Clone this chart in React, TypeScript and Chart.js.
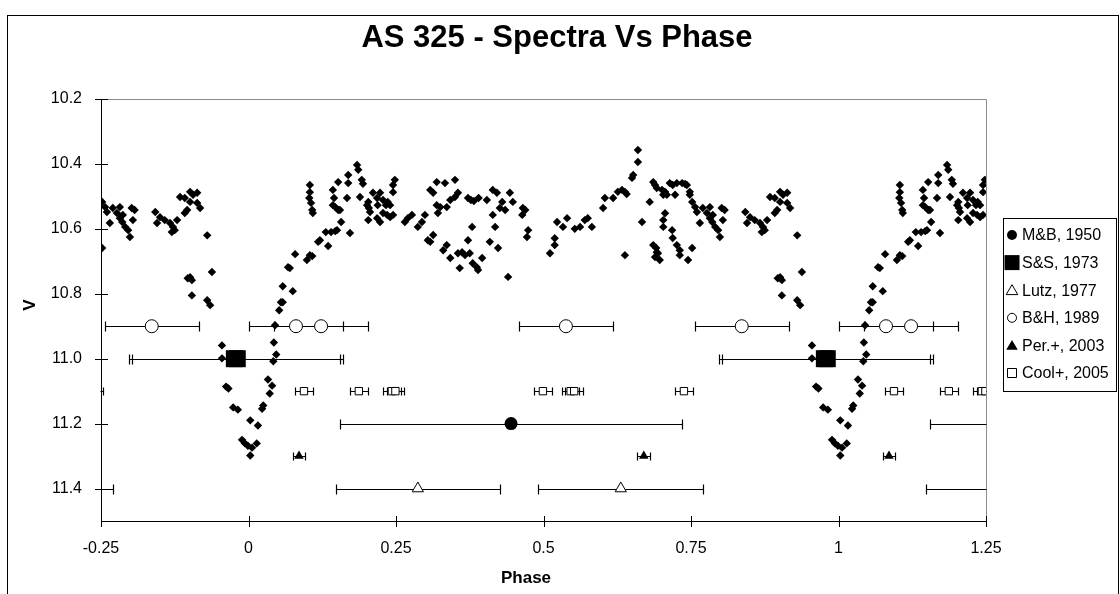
import React, { useEffect, useRef } from 'react';
import { Chart, registerables } from 'chart.js';

Chart.register(...registerables);

// ---------- DATA ----------
// Light curve (base phase 0..1, V magnitude); the chart repeats it at phase -1 / +1
const lcPhase = [
  0.003, 0.006, 0.014, 0.003, 0.016, 0.023, 0.025, 0.036, 0.033, 0.040,
  0.042, 0.047, 0.043, 0.045, 0.052, 0.055, 0.058, 0.058, 0.075, 0.067,
  0.070, 0.079, 0.099, 0.104, 0.108, 0.118, 0.121, 0.135, 0.131, 0.140,
  0.147, 0.150, 0.157, 0.172, 0.155, 0.104, 0.103, 0.106, 0.108, 0.109,
  0.104, 0.143, 0.145, 0.143, 0.147, 0.152, 0.152, 0.167, 0.169, 0.169,
  0.184, 0.186, 0.192, 0.194, 0.189, 0.203, 0.204, 0.206, 0.201, 0.211,
  0.218, 0.223, 0.228, 0.233, 0.219, 0.218, 0.203, 0.228, 0.223, 0.236,
  0.240, 0.235, 0.240, 0.245, 0.245, 0.248, 0.245, 0.265, 0.270, 0.277,
  0.287, 0.294, 0.299, 0.308, 0.313, 0.304, 0.308, 0.313, 0.319, 0.333,
  0.350, 0.319, 0.321, 0.325, 0.336, 0.342, 0.350, 0.355, 0.330, 0.336,
  0.342, 0.355, 0.362, 0.367, 0.375, 0.358, 0.372, 0.380, 0.387, 0.389,
  0.396, 0.379, 0.372, 0.377, 0.382, 0.390, 0.404, 0.409, 0.423, 0.414,
  0.421, 0.430, 0.426, 0.435, 0.414, 0.418, 0.443, 0.448, 0.440, 0.465,
  0.464, 0.469, 0.474, 0.472, 0.511, 0.519, 0.519, 0.523, 0.533, 0.540,
  0.553, 0.562, 0.570, 0.575, 0.582, 0.601, 0.604, 0.618, 0.626, 0.633,
  0.638, 0.641, 0.650, 0.652, 0.660, 0.660, 0.638, 0.667, 0.680, 0.686,
  0.692, 0.689, 0.701, 0.706, 0.709, 0.703, 0.714, 0.719, 0.726, 0.735,
  0.740, 0.743, 0.723, 0.748, 0.748, 0.752, 0.757, 0.760, 0.770, 0.782,
  0.765, 0.777, 0.782, 0.786, 0.791, 0.796, 0.799, 0.787, 0.802, 0.807,
  0.804, 0.703, 0.703, 0.706, 0.718, 0.719, 0.726, 0.731, 0.686, 0.691,
  0.694, 0.689, 0.697, 0.692, 0.731, 0.752, 0.745, 0.842, 0.850, 0.845,
  0.858, 0.867, 0.872, 0.879, 0.875, 0.870, 0.884, 0.892, 0.901, 0.906,
  0.913, 0.901, 0.896, 0.892, 0.913, 0.918, 0.930, 0.938, 0.897, 0.901,
  0.904, 0.904, 0.930, 0.935, 0.955, 0.955, 0.962, 0.966, 0.974, 0.982,
  0.989, 0.994, 0.999,
];
const lcMag = [
  11.298, 11.274, 11.261, 11.190, 11.206, 11.154, 11.144, 11.107, 11.064, 11.083,
  11.008, 10.987, 10.950, 10.897, 10.851, 10.826, 10.826, 10.777, 10.792, 10.718,
  10.721, 10.678, 10.696, 10.681, 10.684, 10.640, 10.635, 10.653, 10.610, 10.610,
  10.607, 10.604, 10.579, 10.613, 10.542, 10.487, 10.505, 10.520, 10.542, 10.551,
  10.465, 10.480, 10.505, 10.527, 10.533, 10.542, 10.456, 10.505, 10.434, 10.459,
  10.403, 10.418, 10.449, 10.461, 10.502, 10.517, 10.536, 10.548, 10.527, 10.489,
  10.505, 10.489, 10.511, 10.527, 10.527, 10.567, 10.573, 10.551, 10.579, 10.517,
  10.527, 10.557, 10.564, 10.557, 10.465, 10.449, 10.487, 10.579, 10.567, 10.557,
  10.594, 10.579, 10.557, 10.640, 10.619, 10.635, 10.480, 10.489, 10.456, 10.459,
  10.449, 10.527, 10.551, 10.533, 10.533, 10.511, 10.502, 10.489, 10.666, 10.650,
  10.690, 10.675, 10.672, 10.681, 10.675, 10.721, 10.635, 10.706, 10.718, 10.727,
  10.690, 10.594, 10.505, 10.511, 10.514, 10.505, 10.511, 10.640, 10.659, 10.480,
  10.489, 10.517, 10.536, 10.542, 10.557, 10.594, 10.489, 10.517, 10.748, 10.536,
  10.557, 10.542, 10.604, 10.625, 10.675, 10.650, 10.629, 10.579, 10.594, 10.567,
  10.600, 10.594, 10.573, 10.567, 10.594, 10.536, 10.505, 10.505, 10.486, 10.480,
  10.486, 10.493, 10.443, 10.434, 10.394, 10.357, 10.681, 10.579, 10.517, 10.456,
  10.474, 10.465, 10.480, 10.486, 10.495, 10.495, 10.459, 10.465, 10.459, 10.459,
  10.462, 10.465, 10.495, 10.486, 10.495, 10.517, 10.533, 10.548, 10.536, 10.533,
  10.582, 10.551, 10.567, 10.579, 10.594, 10.604, 10.625, 10.557, 10.536, 10.542,
  10.573, 10.573, 10.594, 10.552, 10.604, 10.628, 10.650, 10.666, 10.650, 10.659,
  10.675, 10.687, 10.696, 10.672, 10.681, 10.659, 10.696, 10.548, 10.564, 10.582,
  10.573, 10.582, 10.594, 10.573, 10.604, 10.610, 10.502, 10.505, 10.486, 10.495,
  10.489, 10.517, 10.542, 10.551, 10.520, 10.536, 10.620, 10.733, 10.752, 10.749,
  10.758, 10.805, 10.820, 10.835, 10.959, 10.999, 11.086, 11.092, 11.150, 11.157,
  11.250, 11.261, 11.268,
];

// Spectra (phase, V level, phase error)
const mbPhase = [0.445];
const mbMag = [11.2];
const mbErr = [0.29];

const ssPhase = [0.976, 0.981];
const ssMag = [11.0, 11.0];
const ssErr = [0.179, 0.179];

const lutzPhase = [0.287, 0.631];
const lutzMag = [11.4, 11.4];
const lutzErr = [0.139, 0.14];

const bhPhase = [0.0805, 0.123, 0.538, 0.836];
const bhMag = [10.9, 10.9, 10.9, 10.9];
const bhErr = [0.08, 0.08, 0.08, 0.08];

const perPhase = [0.0856, 0.67];
const perMag = [11.3, 11.3];
const perErr = [0.011, 0.011];

const coolPhase = [0.094, 0.187, 0.243, 0.249, 0.499, 0.546, 0.552, 0.738];
const coolMag = [11.1, 11.1, 11.1, 11.1, 11.1, 11.1, 11.1, 11.1];
const coolErr = [0.015, 0.015, 0.015, 0.015, 0.015, 0.015, 0.015, 0.015];

const seriesLabels = ['M&B, 1950', 'S&S, 1973', 'Lutz, 1977', 'B&H, 1989', 'Per.+, 2003', 'Cool+, 2005'];
const xTickValues = [-0.25, 0, 0.25, 0.5, 0.75, 1, 1.25];
const yTickValues = [10.2, 10.4, 10.6, 10.8, 11.0, 11.2, 11.4];
const xMin = -0.25;
const xMax = 1.25;
const yMin = 10.2;
const yMax = 11.5;

const titleText = 'AS 325 - Spectra Vs Phase';
const xTitle = 'Phase';
const yTitle = 'V';

// ---------- helpers ----------
type Pt = { x: number; y: number; e: number };

function repeatPhases(ph: number[], mags: number[], errs?: number[]): Pt[] {
  const out: Pt[] = [];
  ph.forEach((p, i) => {
    [-1, 0, 1].forEach((s) => {
      const x = p + s;
      const e = errs ? errs[i] : 0;
      if (x + e >= xMin && x - e <= xMax) out.push({ x, y: mags[i], e });
    });
  });
  return out;
}

const inRange = (pts: Pt[]) => pts.filter((p) => p.x >= xMin && p.x <= xMax);

const FONT = '"Liberation Sans", Arial, Helvetica, sans-serif';

function drawShape(
  ctx: CanvasRenderingContext2D,
  kind: string,
  x: number,
  y: number,
  s: number,
  filled: boolean
) {
  ctx.beginPath();
  if (kind === 'circle') {
    ctx.arc(x, y, s, 0, Math.PI * 2);
  } else if (kind === 'rect') {
    ctx.rect(x - s, y - s, 2 * s, 2 * s);
  } else if (kind === 'triangle') {
    ctx.moveTo(x, y - s);
    ctx.lineTo(x + s * 1.05, y + s * 0.8);
    ctx.lineTo(x - s * 1.05, y + s * 0.8);
    ctx.closePath();
  }
  if (filled) {
    ctx.fillStyle = '#000';
    ctx.fill();
  } else {
    ctx.fillStyle = '#fff';
    ctx.fill();
    ctx.strokeStyle = '#000';
    ctx.lineWidth = 1;
    ctx.stroke();
  }
}

export default function App() {
  const ref = useRef<HTMLCanvasElement>(null);

  useEffect(() => {
    const lc = inRange(repeatPhases(lcPhase, lcMag));
    const mb = repeatPhases(mbPhase, mbMag, mbErr);
    const ss = repeatPhases(ssPhase, ssMag, ssErr);
    const lutz = repeatPhases(lutzPhase, lutzMag, lutzErr);
    const bh = repeatPhases(bhPhase, bhMag, bhErr);
    const per = repeatPhases(perPhase, perMag, perErr);
    const cool = repeatPhases(coolPhase, coolMag, coolErr);

    const bars: { p: Pt; cap: number }[] = [
      ...mb.map((p) => ({ p, cap: 5 })),
      ...ss.map((p) => ({ p, cap: 5 })),
      ...lutz.map((p) => ({ p, cap: 5 })),
      ...bh.map((p) => ({ p, cap: 5 })),
      ...per.map((p) => ({ p, cap: 4 })),
      ...cool.map((p) => ({ p, cap: 4 })),
    ];

    const frameAndBars = {
      id: 'frameAndBars',
      beforeDatasetsDraw(chart: any) {
        const { ctx, chartArea: a, scales } = chart;
        const xs = scales.x;
        const ys = scales.y;
        ctx.save();
        // plot area border (grey top/right)
        ctx.strokeStyle = '#8c8c8c';
        ctx.lineWidth = 1;
        ctx.beginPath();
        ctx.moveTo(Math.round(a.left) + 0.5, Math.round(a.top) + 0.5);
        ctx.lineTo(Math.round(a.right) + 0.5, Math.round(a.top) + 0.5);
        ctx.lineTo(Math.round(a.right) + 0.5, Math.round(a.bottom) + 0.5);
        ctx.stroke();
        // axes
        ctx.strokeStyle = '#000';
        ctx.beginPath();
        ctx.moveTo(Math.round(a.left) + 0.5, Math.round(a.top));
        ctx.lineTo(Math.round(a.left) + 0.5, Math.round(a.bottom) + 0.5);
        ctx.lineTo(Math.round(a.right) + 1, Math.round(a.bottom) + 0.5);
        ctx.stroke();
        ctx.beginPath();
        yTickValues.forEach((v) => {
          const py = Math.round(ys.getPixelForValue(v)) + 0.5;
          ctx.moveTo(Math.round(a.left) - 6, py);
          ctx.lineTo(Math.round(a.left) + 7, py);
        });
        xTickValues.forEach((v) => {
          const px = Math.round(xs.getPixelForValue(v)) + 0.5;
          ctx.moveTo(px, Math.round(a.bottom) - 5);
          ctx.lineTo(px, Math.round(a.bottom) + 6);
        });
        ctx.stroke();

        // error bars, clipped to the plot area
        ctx.beginPath();
        ctx.rect(a.left - 0.5, 0, a.right - a.left + 1, chart.height);
        ctx.clip();
        ctx.lineWidth = 1.2;
        ctx.beginPath();
        bars.forEach(({ p, cap }) => {
          const py = Math.round(ys.getPixelForValue(p.y)) + 0.5;
          const x1 = Math.round(xs.getPixelForValue(p.x - p.e)) + 0.5;
          const x2 = Math.round(xs.getPixelForValue(p.x + p.e)) + 0.5;
          ctx.moveTo(x1, py);
          ctx.lineTo(x2, py);
          ctx.moveTo(x1, py - cap);
          ctx.lineTo(x1, py + cap);
          ctx.moveTo(x2, py - cap);
          ctx.lineTo(x2, py + cap);
        });
        ctx.stroke();
        ctx.restore();
      },
      afterDraw(chart: any) {
        const { ctx, chartArea: a } = chart;
        ctx.save();
        // outer chart border
        ctx.strokeStyle = '#000';
        ctx.lineWidth = 1;
        ctx.strokeRect(7.5, 15.5, 1111, 600);
        // title
        ctx.fillStyle = '#000';
        ctx.textAlign = 'center';
        ctx.textBaseline = 'middle';
        ctx.font = `bold 31px ${FONT}`;
        ctx.fillText(titleText, 557, 38);
        // axis titles
        ctx.font = `bold 17px ${FONT}`;
        ctx.fillText(xTitle, 526, 578);
        ctx.save();
        ctx.translate(30, (a.top + a.bottom) / 2 - 5);
        ctx.rotate(-Math.PI / 2);
        ctx.fillText(yTitle, 0, 0);
        ctx.restore();
        // legend
        const lx = 1003.5;
        const ly = 218.5;
        ctx.fillStyle = '#fff';
        ctx.fillRect(lx, ly, 113, 173);
        ctx.strokeStyle = '#000';
        ctx.lineWidth = 1;
        ctx.strokeRect(lx, ly, 113, 173);
        const shapes: [string, number, boolean][] = [
          ['circle', 5, true],
          ['rect', 7.5, true],
          ['triangle', 5.5, false],
          ['circle', 4.5, false],
          ['triangle', 5.5, true],
          ['rect', 4.5, false],
        ];
        seriesLabels.forEach((lab, i) => {
          const cy = 235 + i * 27.6;
          const [k, s, f] = shapes[i];
          drawShape(ctx, k, 1012, cy, s, f);
          ctx.fillStyle = '#000';
          ctx.textAlign = 'left';
          ctx.textBaseline = 'middle';
          ctx.font = `16px ${FONT}`;
          ctx.fillText(lab, 1022, cy + 1);
        });
        ctx.restore();
      },
    };

    const tickFont = { family: FONT, size: 16 };

    const chart = new Chart(ref.current as HTMLCanvasElement, {
      type: 'scatter',
      data: {
        datasets: [
          {
            label: 'Light curve',
            data: lc,
            pointStyle: 'rectRot',
            pointRadius: 4.2,
            backgroundColor: '#000',
            borderColor: '#000',
            borderWidth: 0,
          },
          {
            label: seriesLabels[0],
            data: inRange(mb),
            pointStyle: 'circle',
            pointRadius: 6.5,
            backgroundColor: '#000',
            borderColor: '#000',
            borderWidth: 0,
          },
          {
            label: seriesLabels[1],
            data: inRange(ss),
            pointStyle: 'rect',
            pointRadius: 12,
            backgroundColor: '#000',
            borderColor: '#000',
            borderWidth: 0,
          },
          {
            label: seriesLabels[2],
            data: inRange(lutz),
            pointStyle: 'triangle',
            pointRadius: 6.5,
            backgroundColor: '#fff',
            borderColor: '#000',
            borderWidth: 1,
          },
          {
            label: seriesLabels[3],
            data: inRange(bh),
            pointStyle: 'circle',
            pointRadius: 6.5,
            backgroundColor: '#fff',
            borderColor: '#000',
            borderWidth: 1,
          },
          {
            label: seriesLabels[4],
            data: inRange(per),
            pointStyle: 'triangle',
            pointRadius: 5.5,
            backgroundColor: '#000',
            borderColor: '#000',
            borderWidth: 0,
          },
          {
            label: seriesLabels[5],
            data: inRange(cool),
            pointStyle: 'rect',
            pointRadius: 5.2,
            backgroundColor: '#fff',
            borderColor: '#000',
            borderWidth: 1,
          },
        ],
      },
      options: {
        responsive: false,
        animation: false,
        devicePixelRatio: 1,
        layout: { padding: { top: 99, right: 134, left: 0, bottom: 0 } },
        plugins: {
          legend: { display: false },
          title: { display: false },
          tooltip: { enabled: false },
        },
        events: [],
        scales: {
          x: {
            type: 'linear',
            min: xMin,
            max: xMax,
            afterBuildTicks: (s: any) => {
              s.ticks = xTickValues.map((v) => ({ value: v }));
            },
            afterFit: (s: any) => {
              s.height = 73;
            },
            grid: { display: false, drawTicks: false },
            border: { display: false },
            ticks: {
              autoSkip: false,
              maxRotation: 0,
              padding: 18,
              color: '#000',
              font: tickFont,
              callback: (v: any) => String(v),
            },
          },
          y: {
            type: 'linear',
            reverse: true,
            min: yMin,
            max: yMax,
            afterBuildTicks: (s: any) => {
              s.ticks = yTickValues.map((v) => ({ value: v }));
            },
            afterFit: (s: any) => {
              s.width = 101;
            },
            grid: { display: false, drawTicks: false },
            border: { display: false },
            ticks: {
              autoSkip: false,
              padding: 19,
              color: '#000',
              font: tickFont,
              callback: (v: any) => Number(v).toFixed(1),
            },
          },
        },
      },
      plugins: [frameAndBars],
    } as any);

    return () => chart.destroy();
  }, []);

  return (
    <div
      style={{
        position: 'fixed',
        left: 0,
        top: 0,
        width: 1120,
        height: 594,
        background: '#fff',
      }}
    >
      <canvas ref={ref} width={1120} height={594} style={{ display: 'block' }} />
    </div>
  );
}
